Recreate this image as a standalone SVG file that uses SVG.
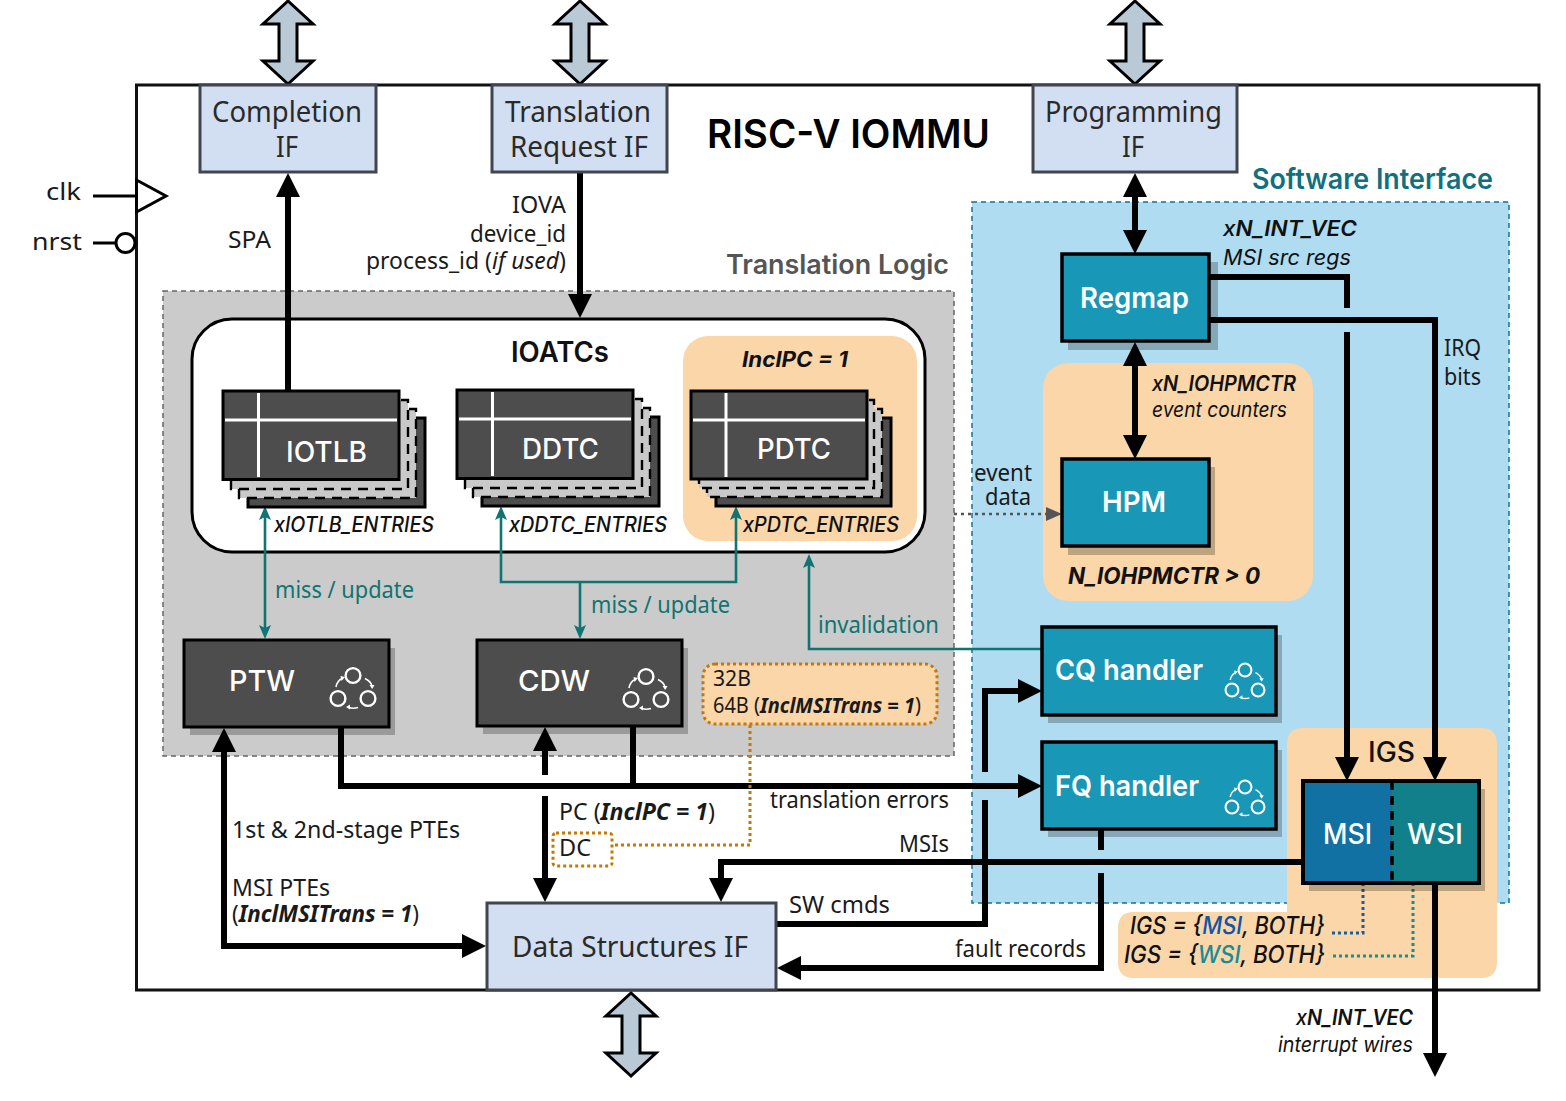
<svg xmlns="http://www.w3.org/2000/svg" width="1566" height="1101" viewBox="0 0 1566 1101">
<style>
text{font-family:"Noto Sans","Liberation Sans",sans-serif;font-size:23px;fill:#1a1a1a}
.if{font-size:28.5px;fill:#2a2a2a}
.h{font-family:Inter,"Noto Sans",sans-serif;font-weight:600}
.w{fill:#fff;font-family:Inter,"Noto Sans",sans-serif;font-weight:500;font-size:29px}
.s{font-weight:600}
.i{font-family:Inter,"Noto Sans",sans-serif;font-style:italic;font-weight:500;font-size:21px;fill:#111}
.m{font-weight:600}
.b{font-weight:700}
.ti{font-style:italic}
.tl{fill:#0f7472}
.conn{fill:none;stroke:#000;stroke-width:6;stroke-linejoin:miter}
.teal{fill:none;stroke:#0f7472;stroke-width:2.6}
.ifbox{fill:#d2dff2;stroke:#41454f;stroke-width:3}
.dk{fill:#4d4d4d;stroke:#000;stroke-width:3}
.bl{fill:#1897b6;stroke:#000;stroke-width:3.5}
.sh{fill:#000;opacity:.24}
.or{fill:#fad6a8}
.lay{fill:#c9c9c9;stroke:#000;stroke-width:2.4;stroke-dasharray:10 7}
.cross{stroke:#fff;stroke-width:3;fill:none}
.bus{fill:#b9c9d6;stroke:#000;stroke-width:3;stroke-linejoin:miter}
.dot{fill:none;stroke-width:3;stroke-dasharray:3 3}
.cyc circle{fill:none;stroke:#fff;stroke-width:2.4}
.cyc path{fill:none;stroke:#fff;stroke-width:1.6}
.cyc polygon{fill:#fff}
</style>
<defs>
<marker id="a" markerUnits="userSpaceOnUse" markerWidth="24" markerHeight="24" refX="14" refY="12" orient="auto-start-reverse"><path d="M0,0 L24,12 L0,24 Z" fill="#000"/></marker>
<marker id="t" markerUnits="userSpaceOnUse" markerWidth="14" markerHeight="12" refX="8" refY="6" orient="auto-start-reverse"><path d="M0,0 L14,6 L0,12 L3,6 Z" fill="#0f7472"/></marker>
<marker id="g" markerUnits="userSpaceOnUse" markerWidth="16" markerHeight="14" refX="8" refY="7" orient="auto"><path d="M0,0 L16,7 L0,14 Z" fill="#555"/></marker>
<g id="cyc" class="cyc">
<circle cx="0" cy="-11.500" r="7.400"/><circle cx="-15" cy="11.500" r="7.400"/><circle cx="15" cy="11.500" r="7.400"/>
<path d="M-17,0 Q-16,-6 -11,-8.500"/><polygon points="-8,-10 -12.500,-11 -11.500,-6"/>
<path d="M12,-8.500 Q18,-5.500 19,-1"/><polygon points="19.200,2 16.500,-2 21.500,-2"/>
<path d="M5,20.500 Q0,22 -4,20.500"/><polygon points="-7,20 -3,17.500 -3,22.500"/>
</g>
<path id="bus" d="M0,0 L-25,23 L-9,23 L-9,60 L-25,60 L0,83 L25,60 L9,60 L9,23 L25,23 Z" class="bus"/>
</defs>

<g id="bus-arrows">
<use href="#bus" x="288" y="1"/>
<use href="#bus" x="580" y="1"/>
<use href="#bus" x="1135" y="1"/>
<use href="#bus" x="631" y="993"/>
</g>

<g id="iommu"><rect x="136.500" y="85" width="1402.500" height="905" fill="#fff" stroke="#111" stroke-width="3"/>
<text class="h" x="707" y="148" style="font-size:40px;fill:#000" textLength="283" lengthAdjust="spacingAndGlyphs">RISC-V IOMMU</text></g>

<g id="clk"><path d="M93,196 H136" stroke="#000" stroke-width="3" fill="none"/><path d="M136.500,180 L166,196 L136.500,212 Z" fill="#fff" stroke="#000" stroke-width="3"/><text x="46" y="200" textLength="35" lengthAdjust="spacingAndGlyphs">clk</text></g>
<g id="nrst"><path d="M93,243 H116" stroke="#000" stroke-width="3" fill="none"/><circle cx="125.500" cy="243" r="9.500" fill="#fff" stroke="#000" stroke-width="3"/><text x="32" y="250" textLength="50" lengthAdjust="spacingAndGlyphs">nrst</text></g>

<g id="translation-logic"><rect x="163" y="291" width="791" height="465" fill="#cbcbcb" stroke="#666" stroke-width="1.500" stroke-dasharray="5 4"/>
<text class="h" x="726" y="274" style="font-size:27px;fill:#555" textLength="223" lengthAdjust="spacingAndGlyphs">Translation Logic</text></g>
<g id="software-interface"><rect x="972" y="202" width="537" height="701" fill="#afdcf0" stroke="#1b6f8a" stroke-width="1.500" stroke-dasharray="5 4"/>
<text class="h" x="1252" y="189" style="font-size:28px;fill:#11707f" textLength="241" lengthAdjust="spacingAndGlyphs">Software Interface</text></g>
<g id="ioatcs"><rect x="192" y="319" width="733" height="233" rx="40" fill="#fff" stroke="#000" stroke-width="3"/>
<rect x="683" y="336" width="234" height="205" rx="25" class="or"/>
<text class="h" x="511" y="362" style="font-size:28px;fill:#111" textLength="98" lengthAdjust="spacingAndGlyphs">IOATCs</text>
<text class="i" x="742" y="367" style="font-weight:700" textLength="106" lengthAdjust="spacingAndGlyphs">InclPC = 1</text></g>
<g id="hpm-region"><rect x="1043" y="363" width="270" height="238" rx="25" class="or"/>
<text class="i" x="1068" y="584" style="font-weight:700;font-size:23px" textLength="192" lengthAdjust="spacingAndGlyphs">N_IOHPMCTR &gt; 0</text></g>
<g id="igs-region"><path d="M1303,728 H1481 Q1497,728 1497,744 V962 Q1497,978 1481,978 H1134 Q1118,978 1118,962 V928 Q1118,912 1134,912 H1287 V744 Q1287,728 1303,728 Z" class="or"/>
<text class="h" x="1368" y="762" style="font-size:28px;font-weight:500;fill:#111" textLength="47" lengthAdjust="spacingAndGlyphs">IGS</text></g>

<g id="connectors">
<path class="conn" d="M288,391 V183" marker-end="url(#a)"/>
<path class="conn" d="M580,172 V308" marker-end="url(#a)"/>
<path class="conn" d="M1135,183 V244" marker-start="url(#a)" marker-end="url(#a)"/>
<path class="conn" d="M1135,352 V449" marker-start="url(#a)" marker-end="url(#a)"/>
<path class="conn" d="M1209,277 H1347 V308 M1347,332 V771" marker-end="url(#a)"/>
<path class="conn" d="M1209,320 H1435 V771" marker-end="url(#a)"/>
<path class="teal" d="M265,512 V633" marker-start="url(#t)" marker-end="url(#t)"/>
<path class="teal" d="M501,512 V582 H736 V512" marker-start="url(#t)" marker-end="url(#t)"/>
<path class="teal" d="M580,582 V633" marker-end="url(#t)"/>
<path class="teal" d="M1042,649 H809 V560" marker-end="url(#t)"/>
<path d="M954,514 H1054" fill="none" stroke="#555" stroke-width="2.500" stroke-dasharray="3 4" marker-end="url(#g)"/>
<path class="conn" d="M224,738 V946 H476" marker-start="url(#a)" marker-end="url(#a)"/>
<path class="conn" d="M341,727 V786 H1032" marker-end="url(#a)"/>
<path class="conn" d="M545,775 V737" marker-end="url(#a)"/>
<path class="conn" d="M545,796 V892" marker-end="url(#a)"/>
<path class="conn" d="M633,727 V786"/>
<path class="conn" d="M777,924 H985 V800 M985,772 V691 H1032" marker-end="url(#a)"/>
<path class="conn" d="M1101,829 V850 M1101,873 V968 H787" marker-end="url(#a)"/>
<path class="conn" d="M1303,862 H721 V892" marker-end="url(#a)"/>
<path class="conn" d="M1435,883 V1067" marker-end="url(#a)"/>
<path class="dot" stroke="#c87800" d="M750,725 V845 H612"/>
<path class="dot" stroke="#1a5ea0" d="M1363,883 V933 H1332"/>
<path class="dot" stroke="#168e98" d="M1413,883 V956 H1332"/>
</g>

<g id="connector-labels">
<text x="228" y="248" textLength="43" lengthAdjust="spacingAndGlyphs">SPA</text>
<text x="512" y="213" textLength="54" lengthAdjust="spacingAndGlyphs">IOVA</text>
<text x="470" y="242" textLength="96" lengthAdjust="spacingAndGlyphs">device_id</text>
<text x="366" y="269" textLength="200" lengthAdjust="spacingAndGlyphs">process_id (<tspan class="ti">if used</tspan>)</text>
<text class="tl" x="275" y="598" textLength="139" lengthAdjust="spacingAndGlyphs">miss / update</text>
<text class="tl" x="591" y="613" textLength="139" lengthAdjust="spacingAndGlyphs">miss / update</text>
<text class="tl" x="818" y="633" textLength="121" lengthAdjust="spacingAndGlyphs">invalidation</text>
<text x="232" y="838" textLength="228" lengthAdjust="spacingAndGlyphs">1st &amp; 2nd-stage PTEs</text>
<text x="232" y="896" textLength="98" lengthAdjust="spacingAndGlyphs">MSI PTEs</text>
<text x="232" y="922" textLength="187" lengthAdjust="spacingAndGlyphs">(<tspan class="ti b">InclMSITrans = 1</tspan>)</text>
<text x="559" y="820" textLength="156" lengthAdjust="spacingAndGlyphs">PC (<tspan class="ti b">InclPC = 1</tspan>)</text>
<text x="770" y="808" textLength="179" lengthAdjust="spacingAndGlyphs">translation errors</text>
<text x="899" y="852" textLength="50" lengthAdjust="spacingAndGlyphs">MSIs</text>
<text x="789" y="913" textLength="101" lengthAdjust="spacingAndGlyphs">SW cmds</text>
<text x="955" y="957" textLength="131" lengthAdjust="spacingAndGlyphs">fault records</text>
<text class="i" x="1223" y="236" textLength="134" lengthAdjust="spacingAndGlyphs">x<tspan class="m">N_INT_VEC</tspan></text>
<text class="i" x="1223" y="265" style="font-weight:400" textLength="128" lengthAdjust="spacingAndGlyphs">MSI src regs</text>
<text x="1444" y="356" textLength="37" lengthAdjust="spacingAndGlyphs">IRQ</text>
<text x="1444" y="385" textLength="37" lengthAdjust="spacingAndGlyphs">bits</text>
<text class="i" x="1152" y="391" textLength="144" lengthAdjust="spacingAndGlyphs">x<tspan class="m">N_IOHPMCTR</tspan></text>
<text class="i" x="1152" y="417" style="font-weight:400" textLength="135" lengthAdjust="spacingAndGlyphs">event counters</text>
<text x="974" y="481" textLength="58" lengthAdjust="spacingAndGlyphs">event</text>
<text x="985" y="505" textLength="46" lengthAdjust="spacingAndGlyphs">data</text>
<text class="i" x="1130" y="934" style="font-size:24px" textLength="195" lengthAdjust="spacingAndGlyphs">IGS = {<tspan style="fill:#1155a5">MSI</tspan>, BOTH}</text>
<text class="i" x="1124" y="963" style="font-size:24px" textLength="201" lengthAdjust="spacingAndGlyphs">IGS = {<tspan style="fill:#168e98">WSI</tspan>, BOTH}</text>
<text class="i" x="1296" y="1025" textLength="117" lengthAdjust="spacingAndGlyphs">x<tspan class="m">N_INT_VEC</tspan></text>
<text class="i" x="1278" y="1052" style="font-weight:400" textLength="135" lengthAdjust="spacingAndGlyphs">interrupt wires</text>
</g>

<g id="completion-if"><rect x="200" y="85" width="176" height="87" class="ifbox"/><text class="if" x="212" y="122" textLength="150" lengthAdjust="spacingAndGlyphs">Completion</text><text class="if" x="276" y="157" textLength="22" lengthAdjust="spacingAndGlyphs">IF</text></g>
<g id="translation-request-if"><rect x="492" y="85" width="175" height="87" class="ifbox"/><text class="if" x="505" y="122" textLength="146" lengthAdjust="spacingAndGlyphs">Translation</text><text class="if" x="510" y="157" textLength="138" lengthAdjust="spacingAndGlyphs">Request IF</text></g>
<g id="programming-if"><rect x="1033" y="85" width="204" height="87" class="ifbox"/><text class="if" x="1045" y="122" textLength="177" lengthAdjust="spacingAndGlyphs">Programming</text><text class="if" x="1122" y="157" textLength="22" lengthAdjust="spacingAndGlyphs">IF</text></g>
<g id="data-structures-if"><rect x="487" y="903" width="289" height="87" class="ifbox"/><text class="if" x="512" y="957" textLength="236" lengthAdjust="spacingAndGlyphs">Data Structures IF</text></g>

<g id="iotlb">
<rect x="248" y="418" width="177" height="89" class="dk"/><rect x="239" y="409" width="177" height="89" class="lay"/><rect x="231" y="400" width="177" height="89" class="lay"/>
<rect x="223" y="391" width="176" height="88.500" class="dk"/><path class="cross" d="M225,420 H397 M258.500,393 V477"/>
<text class="w" x="286" y="462" textLength="81" lengthAdjust="spacingAndGlyphs">IOTLB</text>
<text class="i" x="274" y="532" textLength="160" lengthAdjust="spacingAndGlyphs">xIOTLB_ENTRIES</text></g>
<g id="ddtc">
<rect x="482" y="417" width="177" height="89" class="dk"/><rect x="473" y="408" width="177" height="89" class="lay"/><rect x="465" y="399" width="177" height="89" class="lay"/>
<rect x="457" y="390" width="176" height="88.500" class="dk"/><path class="cross" d="M459,419 H631 M492.500,392 V476"/>
<text class="w" x="522" y="459" textLength="77" lengthAdjust="spacingAndGlyphs">DDTC</text>
<text class="i" x="509" y="532" textLength="158" lengthAdjust="spacingAndGlyphs">xDDTC_ENTRIES</text></g>
<g id="pdtc">
<rect x="716" y="418" width="175" height="88" class="dk"/><rect x="707" y="409" width="175" height="88" class="lay"/><rect x="699" y="400" width="175" height="88" class="lay"/>
<rect x="691" y="391" width="176" height="88" class="dk"/><path class="cross" d="M693,420 H865 M726,393 V477"/>
<text class="w" x="757" y="459" textLength="74" lengthAdjust="spacingAndGlyphs">PDTC</text>
<text class="i" x="743" y="532" textLength="156" lengthAdjust="spacingAndGlyphs">xPDTC_ENTRIES</text></g>

<g id="ptw"><rect x="190" y="648" width="205" height="87" class="sh"/><rect x="184" y="640" width="205" height="87" class="dk"/><text class="w" x="229" y="691" textLength="66" lengthAdjust="spacingAndGlyphs">PTW</text><use href="#cyc" x="353" y="687"/></g>
<g id="cdw"><rect x="483" y="648" width="205" height="86" class="sh"/><rect x="477" y="640" width="205" height="86" class="dk"/><text class="w" x="518" y="691" textLength="72" lengthAdjust="spacingAndGlyphs">CDW</text><use href="#cyc" x="646" y="688"/></g>
<g id="cfg-note"><rect x="703" y="664" width="234" height="60" rx="12" class="or"/><rect x="703" y="664" width="234" height="60" rx="12" class="dot" stroke="#c87800"/>
<text x="713" y="686" style="font-size:21px" textLength="38" lengthAdjust="spacingAndGlyphs">32B</text>
<text x="713" y="713" style="font-size:21px" textLength="208" lengthAdjust="spacingAndGlyphs">64B (<tspan class="ti b">InclMSITrans = 1</tspan>)</text></g>
<g id="dc"><rect x="553" y="833" width="59" height="33" rx="3" class="dot" stroke="#c87800"/><text x="559" y="856" textLength="32" lengthAdjust="spacingAndGlyphs">DC</text></g>

<g id="regmap"><rect x="1068" y="262" width="150" height="88" class="sh"/><rect x="1062" y="254" width="147" height="87" class="bl"/><text class="w s" x="1080" y="308" textLength="109" lengthAdjust="spacingAndGlyphs">Regmap</text></g>
<g id="hpm"><rect x="1068" y="467" width="147" height="88" class="sh"/><rect x="1062" y="459" width="147" height="87" class="bl"/><text class="w s" x="1102" y="512" textLength="64" lengthAdjust="spacingAndGlyphs">HPM</text></g>
<g id="cq-handler"><rect x="1048" y="635" width="234" height="88" class="sh"/><rect x="1042" y="627" width="234" height="88" class="bl"/><text class="w s" x="1055" y="680" textLength="148" lengthAdjust="spacingAndGlyphs">CQ handler</text><use href="#cyc" transform="translate(1245,680) scale(.87)"/></g>
<g id="fq-handler"><rect x="1048" y="750" width="234" height="87" class="sh"/><rect x="1042" y="742" width="234" height="87" class="bl"/><text class="w s" x="1055" y="796" textLength="144" lengthAdjust="spacingAndGlyphs">FQ handler</text><use href="#cyc" transform="translate(1245,797) scale(.87)"/></g>
<g id="msi-wsi"><rect x="1309" y="789" width="176" height="102" class="sh"/>
<rect x="1303" y="781" width="89" height="102" fill="#1171a2"/><rect x="1392" y="781" width="87" height="102" fill="#11808a"/>
<rect x="1303" y="781" width="176" height="102" fill="none" stroke="#000" stroke-width="4"/>
<path d="M1392,781 V883" stroke="#000" stroke-width="3.500" stroke-dasharray="9 6" fill="none"/>
<text class="w" x="1323" y="844" textLength="49" lengthAdjust="spacingAndGlyphs">MSI</text><text class="w" x="1407" y="844" textLength="56" lengthAdjust="spacingAndGlyphs">WSI</text></g>
</svg>
